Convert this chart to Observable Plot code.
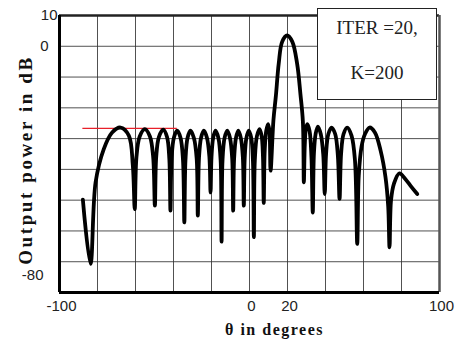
<!DOCTYPE html>
<html>
<head>
<meta charset="utf-8">
<script src="https://cdn.jsdelivr.net/npm/d3@7"></script>
<script src="https://cdn.jsdelivr.net/npm/@observablehq/plot@0.6"></script>
<style>
  html, body { margin: 0; padding: 0; background: #fff; }
  #wrap { position: relative; width: 458px; height: 341px; }
  #legend {
    position: absolute; left: 317px; top: 8px; width: 118px; height: 90px;
    background: #fff; border: 1.5px solid #222;
    font-family: "Liberation Serif", "Times New Roman", serif; font-size: 19px; color: #222;
  }
  #legend div { position: absolute; left: 0; width: 100%; text-align: center; line-height: 20px; }
</style>
</head>
<body>
<div id="wrap"></div>
<script>
// Beam pattern
const theta = [
  -87.7, -83.7,
  -81.0, -76.7, -72.3, -67.9, -63.5, -61.4, -60.4,
  -59.5, -57.8, -55.1, -52.4, -50.7, -49.8,
  -49.1, -47.7, -45.4, -43.4, -42.2, -41.6,
  -41.0, -39.8, -38.1, -36.3, -35.0, -34.3,
  -33.7, -32.6, -31.1, -29.3, -27.8, -27.2,
  -26.6, -25.5, -24.05, -22.4, -21.1, -20.5,
  -20.0, -19.1, -17.9, -16.4, -15.2, -14.7,
  -14.2, -13.1, -11.7, -10.3, -9.1, -8.6,
  -8.1, -7.1, -5.9, -4.6, -3.5, -3.0,
  -2.5, -1.6, -0.4, 0.9, 1.8, 2.3,
  2.8, 3.9, 5.3, 6.4, 7.1, 7.5,
  8.0, 8.8, 9.8, 10.5, 11.1,
  12.6, 13.9, 15.4, 17.2, 19.8, 22.5, 25.1, 26.8, 28.1, 28.6,
  29.1, 29.6, 30.4, 31.6, 32.6, 33.3,
  33.9, 34.8, 36.0, 37.5, 38.8, 39.6,
  40.3, 41.5, 43.2, 45.1, 46.5, 47.4,
  48.2, 49.5, 51.4, 53.7, 55.5, 56.7,
  57.5, 59.0, 60.8, 63.2, 66.0, 69.0, 71.6, 73.0, 73.7,
  74.5, 76.0, 78.9, 82.0, 85.0, 88.3
];
const power = [
  -49.8, -70.7,
  -44.2, -33.4, -28.0, -26.4, -29.0, -38.8, -52.9,
  -36.0, -29.3, -26.9, -29.3, -36.0, -51.8,
  -36.0, -29.5, -27.1, -29.5, -36.5, -53.4,
  -36.5, -29.7, -27.4, -29.7, -37.0, -57.2,
  -37.0, -29.7, -27.4, -29.7, -36.5, -55.0,
  -36.5, -29.7, -27.4, -29.7, -36.0, -47.5,
  -36.0, -29.7, -27.4, -29.7, -37.0, -63.5,
  -37.0, -29.7, -27.4, -29.7, -36.5, -53.4,
  -36.5, -29.7, -27.4, -29.7, -36.0, -51.8,
  -36.0, -29.7, -27.4, -29.7, -37.0, -62.0,
  -37.0, -29.2, -26.9, -29.2, -36.0, -50.9,
  -34.0, -27.5, -25.3, -27.5, -40.4,
  -24.0, -16.0, -5.5, 1.5, 3.5, 1.5, -5.8, -15.5, -24.5, -44.2,
  -32.0, -27.2, -25.3, -27.5, -36.0, -54.0,
  -35.0, -28.5, -26.1, -28.5, -35.0, -48.0,
  -35.0, -28.5, -26.4, -28.5, -35.5, -49.6,
  -35.0, -28.5, -26.4, -29.0, -37.0, -64.2,
  -42.0, -32.5, -28.5, -26.4, -28.0, -33.9, -42.6, -52.0, -65.3,
  -50.0, -44.7, -41.3, -43.1, -45.5, -48.0
];
// Red sidelobe-level marker
const redLevel = -26.7, redFrom = -87.7, redTo = -38.0;

// Axes
const xDomain = [-100, 100];
const yDomain = [-80, 10];
const xGrid = [-80, -60, -40, -20, 0, 20, 40, 60, 80];
const yGrid = [0, -10, -20, -30, -40, -50, -60, -70];
const xTicks = [-100, 0, 20, 100];
const xLabel = "θ in degrees";
const yLabel = "Output power in dB";
const legendLines = ["ITER =20,", "K=200"];

const data = theta.map((t, i) => ({theta: t, power: power[i]}));
const redRule = [{level: redLevel, from: redFrom, to: redTo}];
const fmt = d => String(d);

const chart = Plot.plot({
  width: 458, height: 341,
  marginLeft: 59, marginRight: 19, marginTop: 15, marginBottom: 49,
  x: {domain: xDomain},
  y: {domain: yDomain},
  style: {background: "#fff", fontFamily: "'Liberation Sans', Arial, sans-serif", color: "#222"},
  marks: [
    Plot.gridX(xGrid, {stroke: "#333", strokeOpacity: 0.85, strokeWidth: 1}),
    Plot.gridY(yGrid, {stroke: "#333", strokeOpacity: 0.85, strokeWidth: 1}),
    Plot.ruleY(redRule, {y: "level", x1: "from", x2: "to", stroke: "#e8202a", strokeWidth: 1.3}),
    Plot.line(data, {x: "theta", y: "power", curve: "catmull-rom", stroke: "#000", strokeWidth: 3.8, strokeLinejoin: "round", strokeLinecap: "round"}),
    Plot.ruleY([yDomain[1]], {stroke: "#222", strokeWidth: 2.5}),
    Plot.ruleX([xDomain[1]], {stroke: "#555", strokeWidth: 2.5}),
    Plot.ruleY([yDomain[0]], {stroke: "#000", strokeWidth: 3}),
    Plot.ruleX([xDomain[0]], {stroke: "#000", strokeWidth: 3}),
    Plot.axisX(xTicks, {tickSize: 0, tickPadding: 8, dx: 2, fontSize: 15, label: null, fill: "#222", tickFormat: fmt}),
    Plot.axisY([yDomain[1]], {tickSize: 0, tickPadding: 2, fontSize: 15, label: null, fill: "#222", tickFormat: fmt}),
    Plot.axisY([0], {tickSize: 0, tickPadding: 11, fontSize: 15, label: null, fill: "#222", tickFormat: fmt}),
    Plot.axisY([yDomain[0]], {tickSize: 0, tickPadding: 16, dy: -17, fontSize: 15, label: null, fill: "#222", tickFormat: fmt}),
    Plot.text([xLabel], {frameAnchor: "bottom", textAnchor: "middle", lineAnchor: "middle", dx: 25, dy: 37,
      fontFamily: "'Liberation Serif', 'Times New Roman', serif", fontWeight: "bold", fontSize: 16,
      fill: "#111"}),
    Plot.text([yLabel], {frameAnchor: "left", textAnchor: "middle", lineAnchor: "middle", rotate: -90, dx: -34, dy: 6,
      fontFamily: "'Liberation Serif', 'Times New Roman', serif", fontWeight: "bold", fontSize: 19,
      fill: "#111"})
  ]
});

// letter spacing for titles
d3.select(chart).selectAll("text").filter(function () {
  return this.textContent === xLabel || this.textContent === yLabel;
}).style("letter-spacing", function () { return this.textContent === yLabel ? "2.6px" : "1.5px"; });

const wrap = document.getElementById("wrap");
wrap.appendChild(chart);
const legend = document.createElement("div");
legend.id = "legend";
legendLines.forEach((t, i) => {
  const d = document.createElement("div");
  d.textContent = t;
  d.style.top = (i === 0 ? 9 : 54) + "px";
  legend.appendChild(d);
});
wrap.appendChild(legend);
</script>
</body>
</html>
